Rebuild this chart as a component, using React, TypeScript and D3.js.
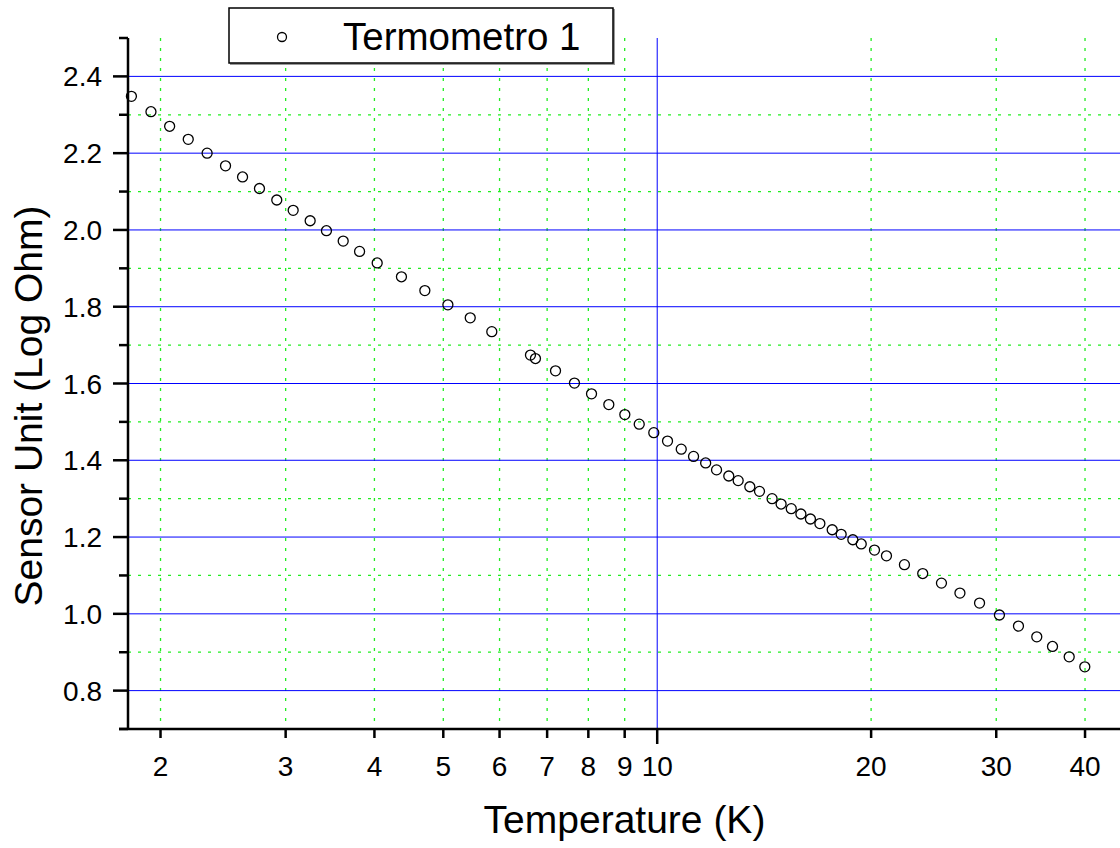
import React from "react";
import * as d3 from "d3";

// Temperature (K)
const temperature = [
  1.82, 1.939, 2.06, 2.188, 2.326, 2.469, 2.609, 2.756, 2.915, 3.074,
  3.248, 3.424, 3.615, 3.812, 4.036, 4.366, 4.71, 5.075, 5.456, 5.851,
  6.632, 6.74, 7.193, 7.648, 8.083, 8.549, 9.004, 9.434, 9.89, 10.34,
  10.81, 11.25, 11.7, 12.12, 12.61, 13.0, 13.5, 13.93, 14.51, 14.94,
  15.44, 15.93, 16.43, 16.94, 17.63, 18.15, 18.85, 19.37, 20.22, 21.02,
  22.28, 23.64, 25.12, 26.67, 28.42, 30.31, 32.24, 34.21, 36.0, 38.0, 39.97,
];
// Sensor Unit (Log Ohm)
const sensorUnit = [
  2.348, 2.308, 2.27, 2.236, 2.2, 2.167, 2.138, 2.108, 2.078, 2.051,
  2.024, 1.998, 1.971, 1.944, 1.914, 1.878, 1.842, 1.805, 1.771, 1.735,
  1.674, 1.665, 1.633, 1.601, 1.573, 1.545, 1.519, 1.494, 1.472, 1.45,
  1.429, 1.41, 1.393, 1.375, 1.359, 1.347, 1.331, 1.319, 1.3, 1.286,
  1.274, 1.26, 1.247, 1.235, 1.219, 1.207, 1.193, 1.182, 1.166, 1.151,
  1.128, 1.105, 1.08, 1.054, 1.028, 0.997, 0.968, 0.94, 0.915, 0.888, 0.862,
];

const xTickValues = [2, 3, 4, 5, 6, 7, 8, 9, 10, 20, 30, 40];
const xMajorTicks = [10];
const yMajorTicks = [0.8, 1.0, 1.2, 1.4, 1.6, 1.8, 2.0, 2.2, 2.4];
const yMinorTicks = [0.7, 0.9, 1.1, 1.3, 1.5, 1.7, 1.9, 2.1, 2.3, 2.5];
const seriesName = "Termometro 1";
const xTitle = "Temperature (K)";
const yTitle = "Sensor Unit (Log Ohm)";

const FONT = "'Liberation Sans', Arial, Helvetica, sans-serif";

export default function App() {
  const left = 128;
  const top = 38;
  const bottom = 729;
  const xDomain: [number, number] = [1.8, 45];
  const pxPerDecade = 710.6;
  const right = left + pxPerDecade * (Math.log10(xDomain[1]) - Math.log10(xDomain[0]));

  const x = d3.scaleLog().domain(xDomain).range([left, right]);
  const y = d3.scaleLinear().domain([0.7, 2.5]).range([bottom, top]);

  const points = temperature.map((t, i) => [t, sensorUnit[i]] as [number, number]);
  const gridRight = 1120;

  return (
    <svg
      width={1120}
      height={848}
      style={{ position: "absolute", left: 0, top: 0, background: "#fff" }}
      fontFamily={FONT}
    >
      <rect x={0} y={0} width={1120} height={848} fill="#fff" />
      {/* minor horizontal grid */}
      {yMinorTicks
        .filter((v) => v > 0.7 && v < 2.5)
        .map((v) => (
          <line
            key={"hm" + v}
            x1={left}
            x2={gridRight}
            y1={y(v)}
            y2={y(v)}
            stroke="#22ee22"
            strokeWidth={1.3}
            strokeDasharray="3,7"
          />
        ))}
      {/* minor vertical grid */}
      {xTickValues
        .filter((v) => !xMajorTicks.includes(v))
        .map((v) => (
          <line
            key={"vm" + v}
            x1={x(v)}
            x2={x(v)}
            y1={top}
            y2={bottom}
            stroke="#22ee22"
            strokeWidth={1.3}
            strokeDasharray="3,7"
          />
        ))}
      {/* major horizontal grid */}
      {yMajorTicks.map((v) => (
        <line
          key={"hM" + v}
          x1={left}
          x2={gridRight}
          y1={y(v)}
          y2={y(v)}
          stroke="#0000ff"
          strokeWidth={1}
        />
      ))}
      {/* major vertical grid */}
      {xMajorTicks.map((v) => (
        <line
          key={"vM" + v}
          x1={x(v)}
          x2={x(v)}
          y1={top}
          y2={bottom}
          stroke="#0000ff"
          strokeWidth={1}
        />
      ))}

      {/* data points */}
      {points.map(([t, s], i) => (
        <circle
          key={"p" + i}
          cx={x(t)}
          cy={y(s)}
          r={5}
          fill="none"
          stroke="#000"
          strokeWidth={1.3}
        />
      ))}

      {/* Y axis */}
      <line x1={left} x2={left} y1={top} y2={bottom} stroke="#000" strokeWidth={2.5} />
      {yMajorTicks.map((v) => (
        <g key={"yt" + v}>
          <line x1={left - 15} x2={left} y1={y(v)} y2={y(v)} stroke="#000" strokeWidth={2.5} />
          <text
            x={left - 26}
            y={y(v)}
            dy="0.36em"
            textAnchor="end"
            fontSize={28}
            fill="#000"
          >
            {d3.format(".1f")(v)}
          </text>
        </g>
      ))}
      {yMinorTicks.map((v) => (
        <line
          key={"ytm" + v}
          x1={left - 9}
          x2={left}
          y1={y(v)}
          y2={y(v)}
          stroke="#000"
          strokeWidth={2.5}
        />
      ))}

      {/* X axis */}
      <line x1={left - 9} x2={1120} y1={bottom} y2={bottom} stroke="#000" strokeWidth={2.5} />
      {xTickValues.map((v) => {
        const major = xMajorTicks.includes(v);
        return (
          <g key={"xt" + v}>
            <line
              x1={x(v)}
              x2={x(v)}
              y1={bottom}
              y2={bottom + (major ? 15 : 9)}
              stroke="#000"
              strokeWidth={2.5}
            />
            <text x={x(v)} y={776} textAnchor="middle" fontSize={28} fill="#000">
              {v}
            </text>
          </g>
        );
      })}

      {/* Axis titles */}
      <text x={624.5} y={833} textAnchor="middle" fontSize={39} fill="#000">
        {xTitle}
      </text>
      <text
        transform={`translate(42, 406) rotate(-90)`}
        textAnchor="middle"
        fontSize={39}
        fill="#000"
      >
        {yTitle}
      </text>

      {/* Legend */}
      <rect x={230} y={9} width={385} height={56} fill="#999" />
      <rect x={229} y={8} width={384} height={55} fill="#fff" stroke="#000" strokeWidth={1.5} />
      <circle cx={282} cy={37} r={4.5} fill="none" stroke="#000" strokeWidth={1.3} />
      <text x={343} y={50} fontSize={38.5} fill="#000">
        {seriesName}
      </text>
    </svg>
  );
}
